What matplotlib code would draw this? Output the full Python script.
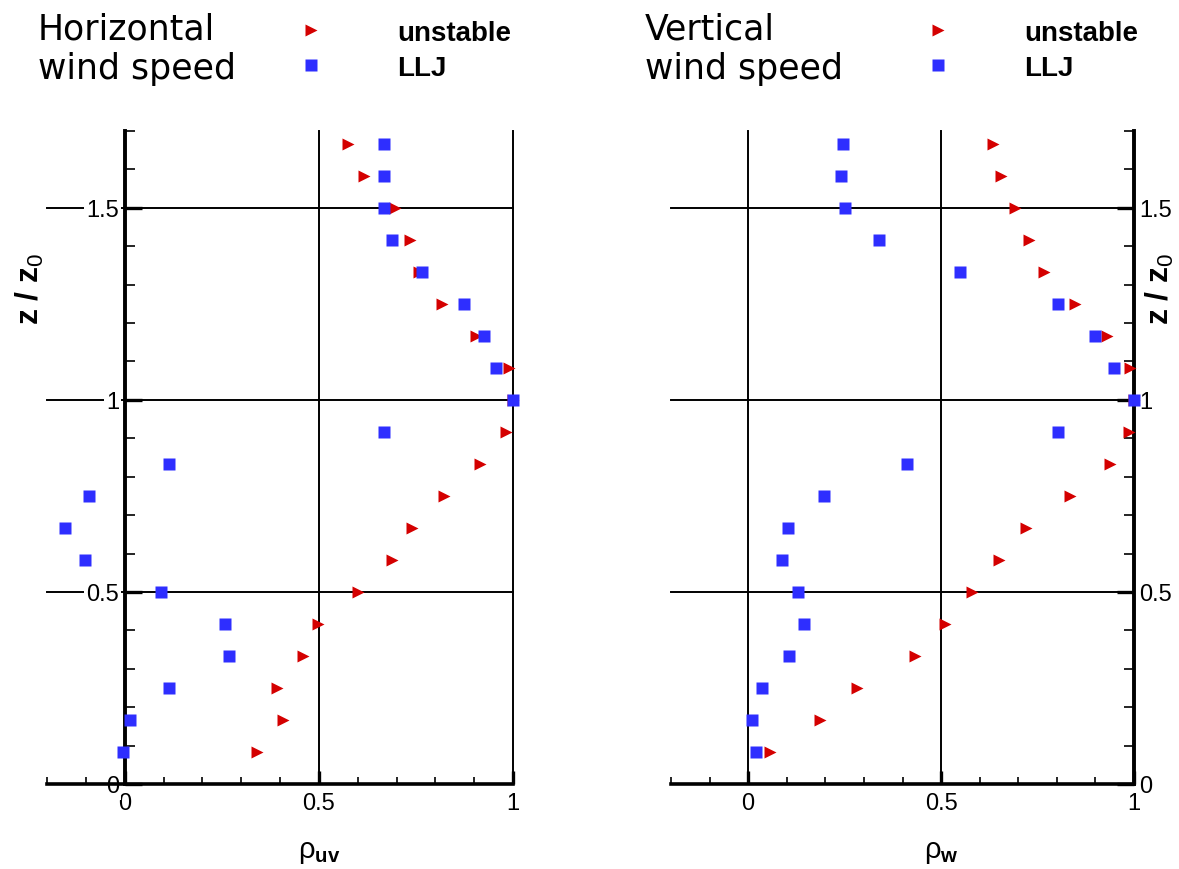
import matplotlib
matplotlib.use("Agg")
import matplotlib.pyplot as plt
from matplotlib.ticker import FixedLocator, FixedFormatter, MultipleLocator

plt.rcParams['font.family'] = ['Liberation Sans', 'DejaVu Sans']
plt.rcParams['mathtext.fontset'] = 'custom'
plt.rcParams['mathtext.rm'] = 'Liberation Sans'
plt.rcParams['mathtext.bf'] = 'Liberation Sans:bold'
plt.rcParams['mathtext.it'] = 'Liberation Sans:italic'

# ---------------- data ----------------
z = [0.083, 0.167, 0.25, 0.333, 0.417, 0.5, 0.583, 0.667, 0.75, 0.833,
     0.917, 1.0, 1.083, 1.167, 1.25, 1.333, 1.417, 1.5, 1.583, 1.667]

uv_unstable = [0.342, 0.408, 0.391, 0.459, 0.499, 0.600, 0.689, 0.740, 0.822, 0.914,
               0.983, 1.0, 0.990, 0.905, 0.817, 0.757, 0.734, 0.696, 0.616, 0.575]
uv_llj = [-0.004, 0.015, 0.115, 0.269, 0.258, 0.094, -0.101, -0.154, -0.091, 0.115,
          0.668, 1.0, 0.957, 0.925, 0.874, 0.766, 0.689, 0.668, 0.668, 0.668]

w_unstable = [0.057, 0.185, 0.282, 0.432, 0.510, 0.580, 0.649, 0.721, 0.834, 0.937,
              0.987, 1.0, 0.989, 0.929, 0.847, 0.768, 0.728, 0.691, 0.655, 0.635]
w_llj = [0.020, 0.010, 0.036, 0.107, 0.144, 0.129, 0.088, 0.103, 0.196, 0.412,
         0.803, 1.0, 0.949, 0.898, 0.804, 0.550, 0.339, 0.251, 0.241, 0.246]

series_names = ["unstable", "LLJ"]
titles = ["Horizontal\nwind speed", "Vertical\nwind speed"]
xlabels = [r"ρ$_{\mathbf{uv}}$", r"ρ$_{\mathbf{w}}$"]
ylabel = r"z / z$_{\mathrm{0}}$"
x_major = [0, 0.5, 1]
x_major_labels = ["0", "0.5", "1"]
y_major = [0, 0.5, 1, 1.5]
y_major_labels = ["0", "0.5", "1", "1.5"]

RED = "#d40000"
BLUE = "#2e2eff"

W, H = 1179, 870
fig = plt.figure(figsize=(W / 100, H / 100), dpi=100)

ax1 = fig.add_axes([47 / W, 1 - 785 / H, 466 / W, 653 / H])
ax2 = fig.add_axes([671 / W, 1 - 785 / H, 463 / W, 653 / H])


def style_axis(ax, side, vgrid):
    ax.set_xlim(-0.2, 1)
    ax.set_ylim(0, 1.7)
    ax.spines['top'].set_visible(False)
    if side == 'left':
        ax.spines['right'].set_visible(False)
        ax.spines['left'].set_position(('data', 0))
        ax.spines['left'].set_linewidth(2.8)
        ax.yaxis.tick_left()
    else:
        ax.spines['left'].set_visible(False)
        ax.spines['right'].set_linewidth(2.8)
        ax.yaxis.tick_right()
        ax.yaxis.set_label_position('right')
    ax.spines['bottom'].set_linewidth(2.6)

    ax.xaxis.set_major_locator(FixedLocator(x_major))
    ax.xaxis.set_major_formatter(FixedFormatter(x_major_labels))
    ax.xaxis.set_minor_locator(MultipleLocator(0.1))
    ax.yaxis.set_major_locator(FixedLocator(y_major))
    ax.yaxis.set_major_formatter(FixedFormatter(y_major_labels))
    ax.yaxis.set_minor_locator(MultipleLocator(0.1))

    ax.tick_params(axis='x', which='major', direction='in', length=9.5, width=2.4,
                   labelsize=17, pad=6, top=False)
    ax.tick_params(axis='x', which='minor', direction='in', length=5, width=1.2, top=False)
    ax.tick_params(axis='y', which='major', direction='in', length=12, width=2.4,
                   labelsize=17, pad=4)
    ax.tick_params(axis='y', which='minor', direction='in', length=7.5, width=1.2)

    for t in ax.yaxis.get_major_ticks():
        for lab in (t.label1, t.label2):
            lab.set_bbox(dict(facecolor='white', edgecolor='none', pad=1.5))

    # grid lines
    for yv in [0.5, 1, 1.5]:
        ax.axhline(yv, color='black', lw=1.4, zorder=1.5, clip_on=False)
    for xv in vgrid:
        ax.axvline(xv, color='black', lw=1.4, zorder=1.5, clip_on=False)


style_axis(ax1, 'left', [0.5, 1])
style_axis(ax2, 'right', [0, 0.5])

panels = [(ax1, uv_unstable, uv_llj), (ax2, w_unstable, w_llj)]
for i, (ax, xu, xl) in enumerate(panels):
    h1, = ax.plot(xu, z, ls='none', marker='>', ms=8.6, mfc=RED, mec='none',
                  clip_on=False, zorder=3, label=series_names[0])
    h2, = ax.plot(xl, z, ls='none', marker='s', ms=8.4, mfc=BLUE, mec='none',
                  clip_on=False, zorder=4, label=series_names[1])

    ax.set_xlabel(xlabels[i], fontsize=21)
    ax.xaxis.label.set_va('center')
    ax.xaxis.set_label_coords(0.5833, -0.1026)

    ax.set_ylabel(ylabel, fontsize=23, fontweight='bold')
    ax.yaxis.label.set_va('center')
    ax.yaxis.label.set_ha('center')
    if i == 0:
        ax.yaxis.set_label_coords(-0.036, 0.76)
    else:
        ax.yaxis.set_label_coords(1.056, 0.76)

    tx = [38, 645][i]
    fig.text(tx / W, 1 - 13 / H, titles[i], fontsize=25, va='top', ha='left',
             linespacing=1.17, family='DejaVu Sans')

    hx = [297, 924][i]
    fig.legend(handles=[h1, h2], labels=series_names, loc='center left',
               bbox_to_anchor=(hx / W, 1 - 51.5 / H), frameon=False,
               prop=dict(size=20, weight='bold'), handlelength=1.0,
               handletextpad=2.6, borderpad=0, borderaxespad=0,
               labelspacing=0.33, numpoints=1)

fig.savefig("out.png", dpi=100)
